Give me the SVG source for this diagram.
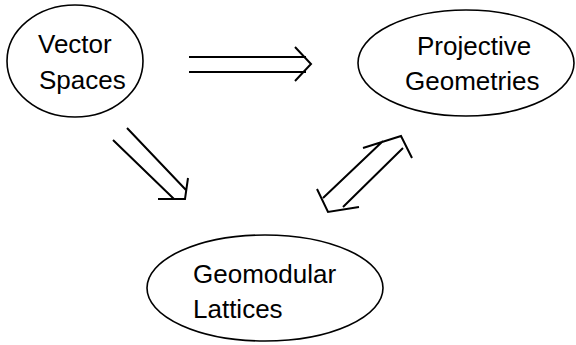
<svg xmlns="http://www.w3.org/2000/svg" width="576" height="345" viewBox="0 0 576 345">
<style>
.node ellipse{fill:none;stroke:#000;stroke-width:1.6}
.node text{font-family:"Liberation Sans",Arial,sans-serif;font-size:26px;fill:#000}
.edge{fill:none;stroke:#000;stroke-width:2;stroke-linecap:butt;stroke-linejoin:miter}
</style>
<rect width="576" height="345" fill="#fff"/>
<g id="vector-spaces" class="node">
<ellipse cx="75" cy="61" rx="68" ry="56"/>
<text x="38" y="53">Vector</text>
<text x="39" y="89">Spaces</text>
</g>
<g id="projective-geometries" class="node">
<ellipse cx="466" cy="63" rx="108" ry="53"/>
<text x="417" y="55">Projective</text>
<text x="405" y="90">Geometries</text>
</g>
<g id="geomodular-lattices" class="node">
<ellipse cx="265" cy="288" rx="118" ry="53"/>
<text x="193" y="283">Geomodular</text>
<text x="193" y="318">Lattices</text>
</g>
<g id="connectors">
<path class="edge" d="M189 57H306M189 72H306M295 47L311 64L295 81"/>
<path class="edge" d="M113 140L174 199M127 128L186 190M158 199H185L188 178"/>
<path class="edge" d="M323 198L383 141M343 207L403 148M363 148L401 136L412 158M317 189L328 212L359 207"/>
</g>
</svg>
